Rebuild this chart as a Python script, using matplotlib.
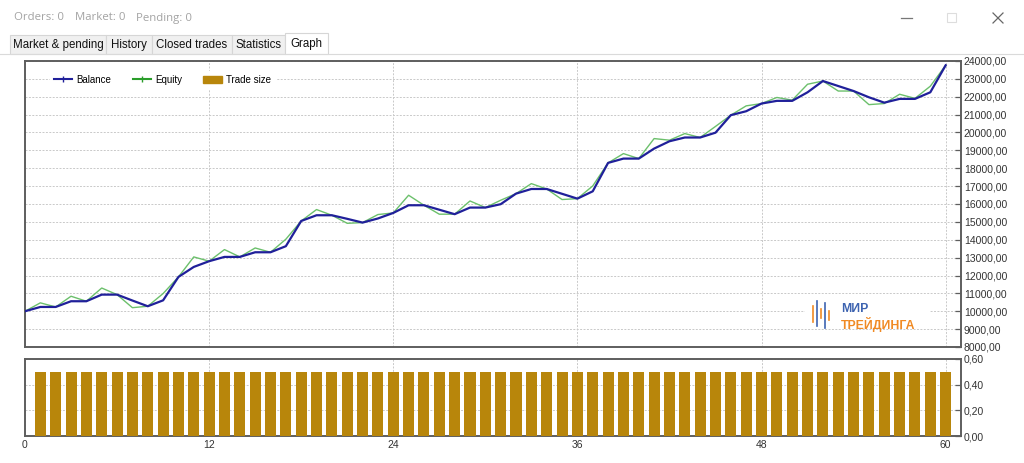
import matplotlib
matplotlib.use("Agg")
import matplotlib.pyplot as plt
from matplotlib.lines import Line2D
from matplotlib.patches import Patch, Rectangle
import numpy as np

plt.rcParams["font.family"] = ["Liberation Sans", "DejaVu Sans"]

# deal number (x axis)
deals = list(range(0, 61))

balance = [
    10000, 10240, 10240, 10560, 10560, 10930, 10930, 10600, 10280, 10610,
    11920, 12480, 12800, 13040, 13040, 13300, 13300, 13640, 15050, 15370,
    15370, 15170, 14960, 15190, 15500, 15930, 15930, 15680, 15430, 15800,
    15800, 15990, 16580, 16840, 16840, 16570, 16300, 16710, 18300, 18540,
    18540, 19100, 19510, 19720, 19720, 19990, 20970, 21190, 21620, 21770,
    21770, 22250, 22880, 22600, 22320, 21970, 21670, 21880, 21880, 22250,
    23760,
]

equity = [
    10000, 10470, 10240, 10840, 10560, 11300, 10930, 10200, 10280, 10990,
    11920, 13040, 12800, 13450, 13040, 13540, 13300, 14030, 15050, 15690,
    15370, 14920, 14960, 15410, 15500, 16490, 15930, 15430, 15430, 16170,
    15800, 16210, 16580, 17140, 16840, 16250, 16300, 17010, 18300, 18820,
    18540, 19660, 19570, 19940, 19720, 20340, 20970, 21490, 21620, 21960,
    21810, 22700, 22880, 22320, 22320, 21560, 21620, 22140, 21910, 22590,
    23760,
]

trade_deals = list(range(1, 61))
trade_size = [0.5] * 60

tab_names = ["Market & pending", "History", "Closed trades", "Statistics", "Graph"]
tab_edges = [10, 106, 152, 232, 285, 328]

BALANCE_COLOR = "#20209a"
EQUITY_COLOR = "#6cc06c"
EQUITY_LEGEND = "#2a9d2a"
BAR_COLOR = "#b8860b"
SPINE_COLOR = "#5e5e5e"
GRID_COLOR = "#c9c9c9"
LABEL_COLOR = "#333333"


def style_axes(ax):
    for spine in ax.spines.values():
        spine.set_color(SPINE_COLOR)
        spine.set_linewidth(1.4)
    ax.yaxis.tick_right()
    ax.tick_params(axis="y", direction="in", length=4.5, width=0.9,
                   color=SPINE_COLOR, labelsize=7.5, labelcolor=LABEL_COLOR, pad=2)
    ax.tick_params(axis="x", length=0, labelsize=7.5, labelcolor=LABEL_COLOR, pad=3)
    ax.grid(True, color=GRID_COLOR, linestyle=(0, (2, 1.5)), linewidth=0.7)
    ax.set_axisbelow(True)


def main():
    fig = plt.figure(figsize=(10.24, 4.63), dpi=100)
    fig.patch.set_facecolor("white")

    W, H = 1024, 463
    left, right = 25 / W, 961 / W

    # balance / equity panel
    ax = fig.add_axes([left, 1 - 347 / H, right - left, (347 - 61) / H])
    style_axes(ax)
    ax.plot(deals, equity, color=EQUITY_COLOR, linewidth=1.0, zorder=3)
    ax.plot(deals, balance, color=BALANCE_COLOR, linewidth=1.6, zorder=4)
    ax.set_xlim(0, 61)
    ax.set_ylim(8000, 24000)
    ax.set_xticks(range(0, 61, 12))
    ax.set_xticklabels([])
    yt = np.arange(8000, 24001, 1000)
    ax.set_yticks(yt)
    ax.set_yticklabels([f"{v},00" for v in yt])

    # trade size panel
    bx = fig.add_axes([left, 1 - 436 / H, right - left, (436 - 359) / H])
    style_axes(bx)
    bx.bar(trade_deals, trade_size, width=0.72, color=BAR_COLOR, zorder=3)
    bx.set_xlim(0, 61)
    bx.set_ylim(0, 0.6)
    bx.set_xticks(range(0, 61, 12))
    bt = [0.0, 0.2, 0.4, 0.6]
    bx.set_yticks(bt)
    bx.set_yticklabels([f"{v:.2f}".replace(".", ",") for v in bt])

    handles = [
        Line2D([], [], color=BALANCE_COLOR, linewidth=1.5, marker="|",
               markersize=4, markeredgewidth=1),
        Line2D([], [], color=EQUITY_LEGEND, linewidth=1.5, marker="|",
               markersize=4, markeredgewidth=1),
        Patch(facecolor=BAR_COLOR, edgecolor=BAR_COLOR),
    ]
    fig.legend(handles, ["Balance", "Equity", "Trade size"], ncol=3,
               loc="center left", bbox_to_anchor=(50 / W, 1 - 79.5 / H),
               frameon=True, facecolor="white", edgecolor="white", framealpha=1,
               fontsize=7, handlelength=1.9, handleheight=0.7, handletextpad=0.4,
               columnspacing=2.2, borderpad=0.4, borderaxespad=0, fancybox=False)

    # window chrome, tabs and logo drawn in pixel coordinates
    ui = fig.add_axes([0, 0, 1, 1])
    ui.set_xlim(0, W)
    ui.set_ylim(H, 0)
    ui.axis("off")
    ui.patch.set_visible(False)
    ui.set_zorder(10)

    for label, x in zip(["Orders: 0", "Market: 0", "Pending: 0"], [14, 75, 136]):
        ui.text(x, 18, label, color="#a3a3a3", fontsize=8.2, va="center",
                family=["Open Sans", "DejaVu Sans"])

    ui.plot([901, 912], [18, 18], color="#777777", linewidth=0.9)
    ui.add_patch(Rectangle((947, 13), 9, 9, fill=False, edgecolor="#dddddd", linewidth=0.8))
    ui.plot([993, 1003], [13, 23], color="#666666", linewidth=0.9)
    ui.plot([993, 1003], [23, 13], color="#666666", linewidth=0.9)

    ui.plot([0, W], [54, 54], color="#dadada", linewidth=0.8)
    for i, name in enumerate(tab_names):
        x0, x1 = tab_edges[i], tab_edges[i + 1]
        selected = name == "Graph"
        top = 33 if selected else 35
        ui.add_patch(Rectangle((x0, top), x1 - x0, 54 - top,
                               facecolor="white" if selected else "#f0f0f0",
                               edgecolor="#d6d6d6", linewidth=0.8))
        ui.text((x0 + x1) / 2, 43.5 if selected else 45, name, color="#111111",
                fontsize=8.3, ha="center", va="center")

    # logo
    ui.add_patch(Rectangle((805, 298), 125, 29, facecolor="white", edgecolor="none"))
    candle_x = [813, 817, 821, 825, 829]
    candle_top = [306, 301, 309, 303, 311]
    candle_bottom = [322, 326, 318, 328, 320]
    candle_color = ["#f08a24", "#3d63b0", "#f08a24", "#3d63b0", "#f08a24"]
    for cx, ct, cb, cc in zip(candle_x, candle_top, candle_bottom, candle_color):
        ui.plot([cx, cx], [ct, cb], color=cc, linewidth=1.2)
    ui.text(841, 309.5, "МИР", color="#3d63b0", fontsize=8.8, fontweight="bold",
            va="center")
    ui.text(841, 324.5, "ТРЕЙДИНГА", color="#f08a24", fontsize=8.8,
            fontweight="bold", va="center")

    fig.savefig("out.png", dpi=100)
    plt.close(fig)


if __name__ == "__main__":
    main()
